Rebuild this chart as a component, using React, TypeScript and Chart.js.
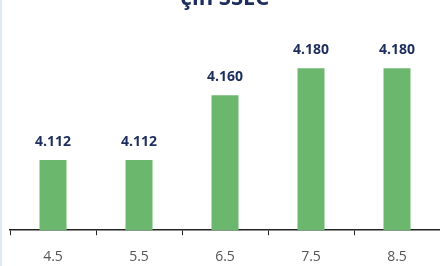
import React, { useEffect, useRef } from "react";
import { Chart, registerables } from "chart.js";

Chart.register(...registerables);

const titleText = "çin SSEC";
const categories = ["4.5", "5.5", "6.5", "7.5", "8.5"];
const values = [4.112, 4.112, 4.16, 4.18, 4.18];
const valueLabels = ["4.112", "4.112", "4.160", "4.180", "4.180"];

const barLabelPlugin = {
  id: "barLabels",
  afterDatasetsDraw(chart: any) {
    const ctx = chart.ctx;
    const meta = chart.getDatasetMeta(0);
    ctx.save();
    ctx.font = "bold 14px 'Open Sans', sans-serif";
    ctx.fillStyle = "#1c2d5e";
    ctx.textAlign = "center";
    ctx.textBaseline = "middle";
    meta.data.forEach((bar: any, i: number) => {
      ctx.fillText(valueLabels[i], bar.x, bar.y - 18);
    });
    ctx.restore();
  },
};

export default function App() {
  const ref = useRef<HTMLCanvasElement | null>(null);
  useEffect(() => {
    if (!ref.current) return;
    const chart = new Chart(ref.current, {
      type: "bar",
      data: {
        labels: categories,
        datasets: [
          {
            data: values,
            backgroundColor: "#6cb76e",
            categoryPercentage: 1,
            barPercentage: 0.314,
          },
        ],
      },
      options: {
        responsive: false,
        animation: false,
        layout: { padding: { left: 10, right: 0, top: 0, bottom: 12 } },
        plugins: {
          legend: { display: false },
          tooltip: { enabled: false },
          title: {
            display: true,
            text: titleText,
            color: "#1c2d5e",
            font: { family: "'Open Sans', sans-serif", size: 22, weight: "bold" },
            padding: { top: 0, bottom: 29 },
          },
        },
        scales: {
          x: {
            grid: {
              display: true,
              drawOnChartArea: false,
              drawTicks: true,
              tickLength: 5,
              color: "#222",
              offset: true,
            },
            border: { display: true, color: "#222", width: 1.5 },
            ticks: {
              color: "#555",
              padding: 13,
              font: { family: "'Open Sans', sans-serif", size: 14 },
            },
          },
          y: {
            display: false,
            min: 4.06,
            max: 4.2,
          },
        },
      },
      plugins: [barLabelPlugin],
    });
    return () => chart.destroy();
  }, []);

  return (
    <div
      style={{
        position: "fixed",
        left: 0,
        top: 0,
        width: 440,
        height: 266,
        overflow: "hidden",
        background: "#fff",
      }}
    >
      <div
        style={{
          position: "absolute",
          left: 0,
          top: 0,
          width: 2,
          height: 266,
          background: "#dfeaf1",
        }}
      />
      <canvas
        ref={ref}
        width={440}
        height={304}
        style={{ position: "absolute", left: 0, top: -14, width: 440, height: 304 }}
      />
    </div>
  );
}
